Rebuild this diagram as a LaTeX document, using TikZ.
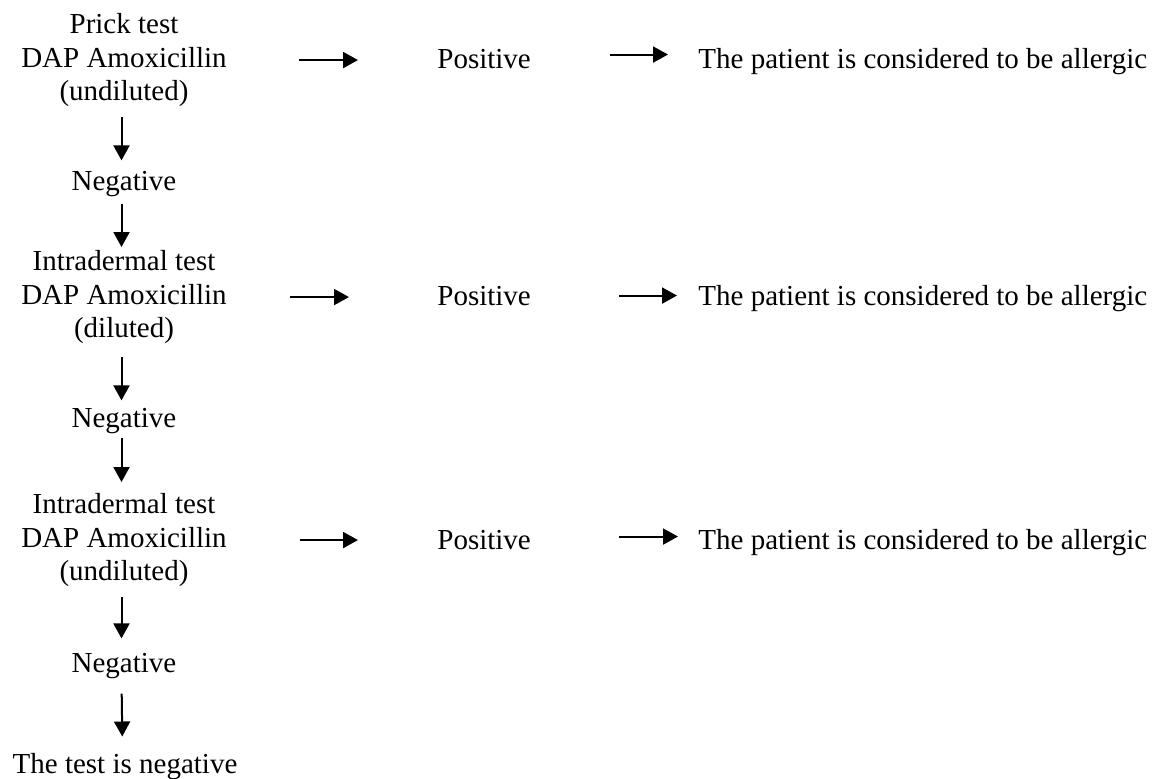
\documentclass[tikz,border=0pt]{standalone}
\usepackage{fontspec}
\setmainfont{Liberation Serif}
\usetikzlibrary{arrows.meta}
\tikzset{
  txt/.style={inner sep=0pt, font=\fontsize{14.5}{16.75}\selectfont, align=center},
  flow/.style={-{Triangle[length=7.5pt,width=8pt]}, line width=1pt},
}
\begin{document}
\begin{tikzpicture}[x=0.5pt,y=-0.5pt]
  \useasboundingbox (0,0) rectangle (1155,778);

  % left column
  \node[txt,anchor=north] (prick) at (124,13) {Prick test\\DAP Amoxicillin\\(undiluted)};
  \node[txt,anchor=base] (neg1) at (124,190) {Negative};
  \node[txt,anchor=north] (intra1) at (124,250) {Intradermal test\\DAP Amoxicillin\\(diluted)};
  \node[txt,anchor=base] (neg2) at (124,427) {Negative};
  \node[txt,anchor=north] (intra2) at (124,493) {Intradermal test\\DAP Amoxicillin\\(undiluted)};
  \node[txt,anchor=base] (neg3) at (124,672) {Negative};
  \node[txt,anchor=base] (result) at (125,773) {The test is negative};

  % positive results
  \node[txt,anchor=base west] (pos1) at (437,68) {Positive};
  \node[txt,anchor=base west] (pos2) at (437,305) {Positive};
  \node[txt,anchor=base west] (pos3) at (437,549) {Positive};

  \node[txt,anchor=base west] (allerg1) at (698,68) {The patient is considered to be allergic};
  \node[txt,anchor=base west] (allerg2) at (698,305) {The patient is considered to be allergic};
  \node[txt,anchor=base west] (allerg3) at (698,549) {The patient is considered to be allergic};

  % downward arrows
  \draw[flow,shorten <=5pt,shorten >=5pt] ([xshift=-1.25pt]prick.south) -- ([xshift=-1.25pt]neg1.north);
  \draw[flow,shorten <=3.5pt,shorten >=1.5pt] ([xshift=-1.25pt]neg1.south) -- ([xshift=-1.25pt]intra1.north);
  \draw[flow,shorten <=6.5pt,shorten >=3.5pt] ([xshift=-1.25pt]intra1.south) -- ([xshift=-1.25pt]neg2.north);
  \draw[flow,shorten <=2pt,shorten >=5.5pt] ([xshift=-1.25pt]neg2.south) -- ([xshift=-1.25pt]intra2.north);
  \draw[flow,shorten <=5pt,shorten >=7pt] ([xshift=-1.25pt]intra2.south) -- ([xshift=-1.25pt]neg3.north);
  \draw[flow,shorten <=7.5pt,shorten >=8pt] ([xshift=-1.25pt]neg3.south) -- ([xshift=-1.25pt]result.north);

  % sideways arrows
  \draw[flow,shorten <=35.75pt,shorten >=39.5pt] (prick.east) -- (prick.east -| pos1.west);
  \draw[flow,shorten <=31.25pt,shorten >=44pt] (intra1.east) -- (intra1.east -| pos2.west);
  \draw[flow,shorten <=36.25pt,shorten >=39.5pt] (intra2.east) -- (intra2.east -| pos3.west);

  \draw[flow,shorten <=39.25pt,shorten >=15pt] ([yshift=2pt]pos1.east) -- ([yshift=2pt]pos1.east -| allerg1.west);
  \draw[flow,shorten <=43.75pt,shorten >=10.5pt] (pos2.east) -- (pos2.east -| allerg2.west);
  \draw[flow,shorten <=43.75pt,shorten >=10pt] ([yshift=1.5pt]pos3.east) -- ([yshift=1.5pt]pos3.east -| allerg3.west);
\end{tikzpicture}
\end{document}
